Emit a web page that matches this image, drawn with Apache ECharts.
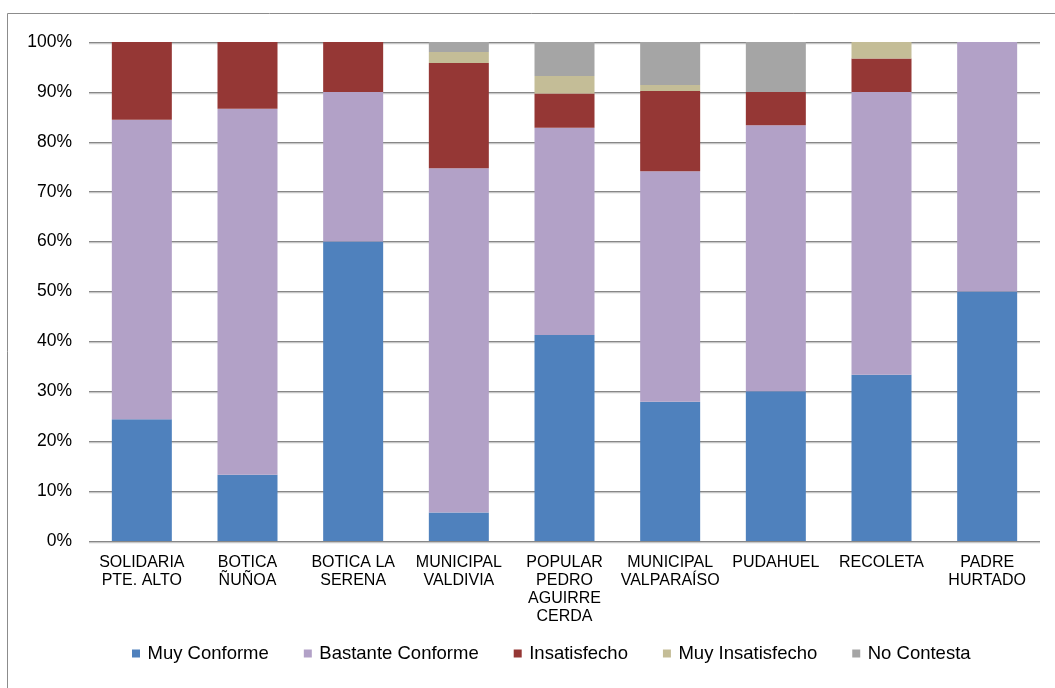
<!DOCTYPE html>
<html>
<head>
<meta charset="utf-8">
<script src="https://cdn.jsdelivr.net/npm/echarts@6/dist/echarts.min.js"></script>
<style>
html,body{margin:0;padding:0;background:#fff;}
#chart{width:1055px;height:688px;}
</style>
</head>
<body>
<div id="chart"></div>
<script>
const categories = ['SOLIDARIA\nPTE. ALTO','BOTICA\nÑUÑOA','BOTICA LA\nSERENA','MUNICIPAL\nVALDIVIA','POPULAR\nPEDRO\nAGUIRRE\nCERDA','MUNICIPAL\nVALPARAÍSO','PUDAHUEL','RECOLETA','PADRE\nHURTADO'];
const seriesNames = ['Muy Conforme','Bastante Conforme','Insatisfecho','Muy Insatisfecho','No Contesta'];
const muyConforme      = [24.4, 13.3, 60, 5.7, 41.3, 27.9, 30, 33.3, 50];
const bastanteConforme = [60.0, 73.3, 30, 69.0, 41.5, 46.2, 53.3, 56.7, 50];
const insatisfecho     = [15.6, 13.4, 10, 21.1, 6.9, 16.1, 6.7, 6.7, 0];
const muyInsatisfecho  = [0, 0, 0, 2.2, 3.5, 1.2, 0, 3.3, 0];
const noContesta       = [0, 0, 0, 2.0, 6.8, 8.6, 10, 0, 0];
const yTicks = [0,10,20,30,40,50,60,70,80,90,100];

const colors = ['#4F81BD','#B2A1C7','#953735','#C4BD97','#A5A5A5'];
const values = [muyConforme, bastanteConforme, insatisfecho, muyInsatisfecho, noContesta];

const chart = echarts.init(document.getElementById('chart'), null, {renderer:'canvas'});
const font = '"Liberation Sans", Arial, sans-serif';
chart.setOption({
  animation:false,
  color: colors,
  graphic:[{type:'rect', shape:{x:7.5,y:13.5,width:1100,height:700}, style:{fill:null, stroke:'#8c8c8c', lineWidth:1}, silent:true, z:-1}],
  grid:{left:89, right:15, top:42, bottom:147, containLabel:false},
  legend:{
    left:127, top:639, itemWidth:8, itemHeight:8, itemGap:35, icon:'rect',
    textStyle:{fontFamily:font, fontSize:18.5, color:'#000', padding:[0,0,0,2.5]},
    data: seriesNames
  },
  xAxis:{
    type:'category', data:categories,
    axisLine:{show:false}, axisTick:{show:false},
    axisLabel:{interval:0, margin:13, fontFamily:font, fontSize:16, lineHeight:18, color:'#000', align:'center'}
  },
  yAxis:{
    type:'value', min:yTicks[0], max:yTicks[yTicks.length-1], interval:10,
    axisLine:{show:false}, axisTick:{show:false},
    axisLabel:{formatter:'{value}%', margin:17, fontFamily:font, fontSize:17.5, color:'#000'},
    splitLine:{show:true, lineStyle:{color:'#878787', width:1.2, shadowColor:'#c8c8c8', shadowOffsetY:1.2, shadowBlur:0}}
  },
  series: seriesNames.map((n,i)=>({
    name:n, type:'bar', stack:'total', data:values[i],
    barWidth:60,
    itemStyle:{color:colors[i]}
  }))
});
</script>
</body>
</html>
